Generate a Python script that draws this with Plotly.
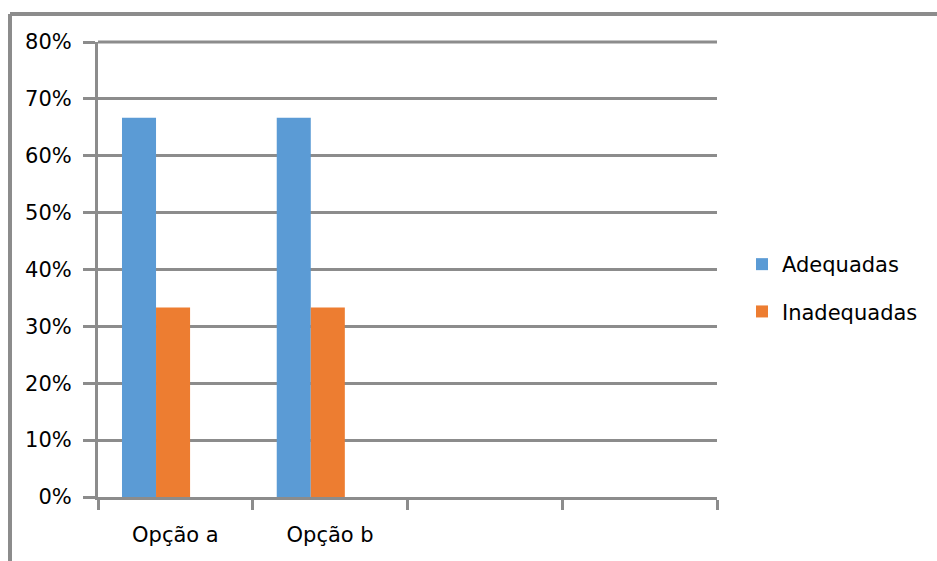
import plotly.graph_objects as go

# Category labels and the two answer groups (share of responses)
categories = ["Opção a", "Opção b"]
adequadas = [0.667, 0.667]
inadequadas = [0.333, 0.333]
series_names = ["Adequadas", "Inadequadas"]

# The category axis reserves four slots; only the first two carry data
n_slots = 4
y_max = 0.8

BLUE = "#5b9bd5"
ORANGE = "#ed7d31"
GRAY = "#8c8c8c"
FONT = "DejaVu Sans"

# plot area in pixels (937 x 561 canvas)
L, R, T, B = 98, 220, 42, 64
W, H = 937, 561
pw, ph = W - L - R, H - T - B


def px_x(px):
    return (px - L) / pw


def px_y(py):
    return (H - B - py) / ph


x_pos = list(range(len(categories)))

fig = go.Figure()
fig.add_trace(go.Bar(
    x=x_pos, y=adequadas, name=series_names[0],
    marker=dict(color=BLUE, line=dict(width=0)),
    width=0.22, offset=-0.345, legendgroup="a",
))
fig.add_trace(go.Bar(
    x=x_pos, y=inadequadas, name=series_names[1],
    marker=dict(color=ORANGE, line=dict(width=0)),
    width=0.22, offset=-0.125, legendgroup="b",
))

fig.update_layout(
    width=W, height=H,
    margin=dict(l=L, r=R, t=T, b=B, pad=0),
    paper_bgcolor="white", plot_bgcolor="white",
    font=dict(family=FONT, size=21, color="#000000"),
    barmode="overlay",
    showlegend=True,
    legend=dict(
        x=px_x(742), y=px_y(288), xanchor="left", yanchor="middle",
        traceorder="grouped", tracegroupgap=17,
        font=dict(family=FONT, size=21, color="#000000"),
        bgcolor="rgba(0,0,0,0)", itemclick=False,
    ),
    xaxis=dict(
        range=[-0.5, n_slots - 0.5],
        tickvals=x_pos, ticktext=categories,
        ticks="", showgrid=False, zeroline=False,
        showline=True, linecolor=GRAY, linewidth=3,
        ticklabelstandoff=17,
        minor=dict(
            tickvals=[i - 0.5 for i in range(n_slots + 1)],
            ticks="outside", ticklen=10, tickwidth=3, tickcolor=GRAY,
            showgrid=False,
        ),
        fixedrange=True,
    ),
    yaxis=dict(
        range=[0, y_max], dtick=0.1, tickformat=".0%",
        showgrid=True, gridcolor=GRAY, gridwidth=3,
        zeroline=False,
        showline=True, linecolor=GRAY, linewidth=3,
        ticks="outside", ticklen=12, tickwidth=3, tickcolor=GRAY,
        ticklabelstandoff=7,
        fixedrange=True,
    ),
)

# Top gridline at the end of the value axis (top edge of the plot area)
fig.add_shape(type="line", xref="paper", yref="paper",
              x0=0, x1=1, y0=1, y1=1,
              line=dict(color=GRAY, width=3), layer="below")

# Chart-area frame: top and left edges
fig.add_shape(type="line", xref="paper", yref="paper",
              x0=px_x(10), x1=px_x(940), y0=px_y(14), y1=px_y(14),
              line=dict(color=GRAY, width=4))
fig.add_shape(type="line", xref="paper", yref="paper",
              x0=px_x(10), x1=px_x(10), y0=px_y(14), y1=px_y(565),
              line=dict(color=GRAY, width=4))

fig.write_html("out.html", config=dict(displayModeBar=False))
